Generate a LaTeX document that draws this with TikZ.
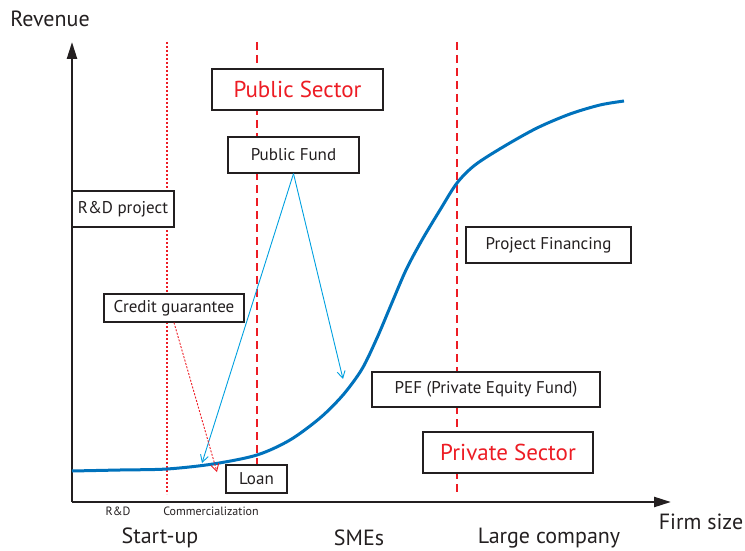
\documentclass[tikz,border=0pt]{standalone}
\usepackage{fontspec}
\setmainfont{PT Sans}
\usepackage{tikz}
\usetikzlibrary{arrows.meta, positioning}
\definecolor{myred}{RGB}{237,28,36}
\definecolor{mydark}{RGB}{35,31,32}
\definecolor{myblue}{RGB}{0,114,188}
\definecolor{mycyan}{RGB}{0,160,223}
\tikzset{
  box/.style={rectangle, draw=mydark, fill=white, text=mydark,
    inner sep=0pt, font=\fontsize{17}{19}\selectfont, line width=1.2pt},
  sectorbox/.style={box, text=myred, font=\fontsize{23}{26}\selectfont},
  axislabel/.style={text=mydark, inner sep=0pt, font=\fontsize{22}{24}\selectfont},
  stagelabel/.style={text=mydark, inner sep=0pt, font=\fontsize{12}{14}\selectfont},
  axis/.style={-{Triangle[length=17pt,width=10pt]}, line width=2.4pt, color=mydark},
  dashline/.style={myred, line width=2.6pt, dash pattern=on 8pt off 5pt},
  dotline/.style={myred, line width=2.4pt, dash pattern=on 2pt off 2pt},
  fundarrow/.style={-{Straight Barb[length=7pt,width=8pt]}, line width=0.9pt, color=mycyan},
  guarantee/.style={-{Straight Barb[length=7pt,width=8pt]}, line width=0.9pt, color=myred,
    dash pattern=on 2pt off 1.5pt},
  growth/.style={line width=3pt, color=myblue}
}

\begin{document}
\begin{tikzpicture}[x=1pt, y=-1pt]
  \useasboundingbox (0,0) rectangle (745,551);
  % axes
  \coordinate (origin) at (72,502);
  \coordinate (ytop) at (72,42);
  \coordinate (xend) at (671,502);
  \draw[axis] (origin) -- (ytop);
  \draw[axis] (origin) -- (xend);
  \node[axislabel] (revenue) at (50,19) {Revenue};
  \node[axislabel] (firmsize) at (701,522) {Firm size};
  % stage borders
  \draw[dotline] (167,42) -- (167,494);
  \draw[dashline] (257,42) -- (257,492);
  \draw[dashline] (457,42) -- (457,494);
  % growth curve
  \draw[growth] plot[smooth, tension=0.5] coordinates {(72,471) (120,470) (167,469)
    (213,464) (257,455) (290,440) (320,418) (343,395) (362,369) (377,338)
    (391,305) (406,270) (422,240) (440,210) (457,183) (475,165) (503,147)
    (537,128) (570,114) (600,105) (624,101)};
  \coordinate (loanpt) at (202,463);
  \coordinate (pefpt) at (343,379);
  \coordinate (creditpt) at (217,472);
  % boxes
  \node[sectorbox, minimum width=171pt, minimum height=41pt] (pubsector) at (297.5,89.5) {Public Sector};
  \node[box, minimum width=131pt, minimum height=36pt] (pubfund) at (293.5,155) {Public Fund};
  \node[box, minimum width=102pt, minimum height=36pt] (rdproj) at (123,209) {R\&D project};
  \node[box, minimum width=140pt, minimum height=28pt] (credit) at (174,308) {Credit guarantee};
  \node[box, minimum width=61pt, minimum height=28pt] (loan) at (256.5,479) {Loan};
  \node[box, minimum width=165pt, minimum height=36pt] (projfin) at (548.5,245) {Project Financing};
  \node[box, minimum width=228pt, minimum height=35pt] (pef) at (486,389.5) {PEF (Private Equity Fund)};
  \node[sectorbox, minimum width=170pt, minimum height=41pt] (privsector) at (508,452.5) {Private Sector};
  % funding flows
  \draw[fundarrow] (pubfund.south) -- (loanpt);
  \draw[fundarrow] (pubfund.south) -- (pefpt);
  \draw[guarantee] (credit.south) -- (creditpt);
  % stages
  \node[stagelabel] (rd) at (118,511) {R\&D};
  \node[stagelabel] (comm) at (211,511) {Commercialization};
  \node[axislabel] (startup) at (160,538) {Start-up};
  \node[axislabel] (smes) at (359,538) {SMEs};
  \node[axislabel] (large) at (549,538) {Large company};
\end{tikzpicture}
\end{document}
